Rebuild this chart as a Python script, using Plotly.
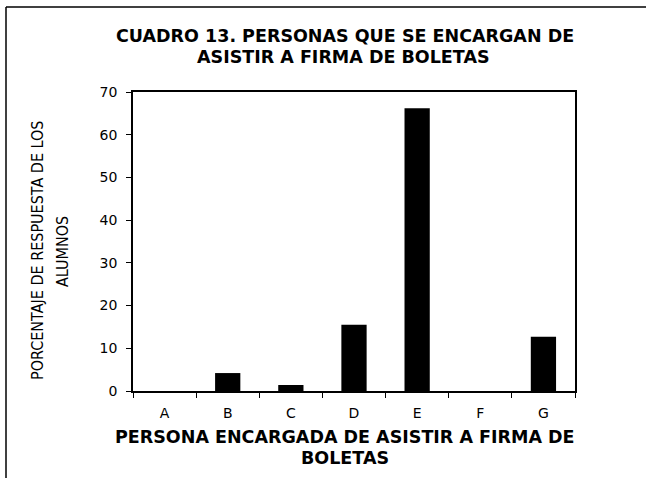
import plotly.graph_objects as go

categories = ["A", "B", "C", "D", "E", "F", "G"]
values = [0, 4.2, 1.4, 15.5, 66.2, 0, 12.7]
y_ticks = [0, 10, 20, 30, 40, 50, 60, 70]

W, H = 646, 478
L, R, T, B = 133, 71, 92, 87
PW, PH = W - L - R, H - T - B

def px(x):
    return (x - L) / PW

def py(y):
    return (H - B - y) / PH

FONT = "DejaVu Sans, Liberation Sans, Arial, sans-serif"
NARROW = "Liberation Sans Narrow, Arial Narrow, DejaVu Sans Condensed, sans-serif"
BIG = 17.5

fig = go.Figure(go.Bar(
    x=categories, y=values, width=0.4,
    marker=dict(color="black", line=dict(width=0)),
))

fig.update_layout(
    width=W, height=H,
    margin=dict(l=L, r=R, t=T, b=B),
    paper_bgcolor="white", plot_bgcolor="white",
    showlegend=False,
    font=dict(family=FONT, color="black"),
)

fig.update_yaxes(
    range=[0, 70], tickvals=y_ticks,
    showline=True, mirror=True, linecolor="black", linewidth=1.5,
    ticks="outside", ticklen=5, tickcolor="black",
    showgrid=False, zeroline=False,
    tickfont=dict(size=14, family=FONT, color="black"),
    ticklabelstandoff=6,
)
fig.update_xaxes(
    showline=True, mirror=True, linecolor="black", linewidth=1.5,
    ticks="outside", ticklen=5, tickcolor="black", tickson="boundaries",
    showgrid=False, zeroline=False,
    tickfont=dict(size=14, family=FONT, color="black"),
    ticklabelstandoff=8,
)

def text_line(txt, x, y, size=BIG, family=FONT, angle=0):
    fig.add_annotation(text=txt, xref="paper", yref="paper", x=px(x), y=py(y),
                       showarrow=False, textangle=angle,
                       xanchor="center", yanchor="middle",
                       font=dict(size=size, family=family, color="black"))

# chart title
text_line("<b>CUADRO 13. PERSONAS QUE SE ENCARGAN DE</b>", 345, 36)
text_line("<b>ASISTIR A FIRMA DE BOLETAS</b>", 343, 57)

# x-axis title
text_line("<b>PERSONA ENCARGADA DE ASISTIR A FIRMA DE</b>", 345, 437)
text_line("<b>BOLETAS</b>", 345, 458)

# y-axis title
text_line("PORCENTAJE DE RESPUESTA DE LOS", 37, 251, size=16, family=NARROW, angle=-90)
text_line("ALUMNOS", 62, 252, size=16, family=NARROW, angle=-90)

# outer frame (top and left edges visible)
fig.add_shape(type="line", xref="paper", yref="paper",
              x0=px(6), x1=px(660), y0=py(7), y1=py(7),
              line=dict(color="black", width=1.5))
fig.add_shape(type="line", xref="paper", yref="paper",
              x0=px(6), x1=px(6), y0=py(7), y1=py(490),
              line=dict(color="black", width=1.5))

fig.write_html("out.html", config={"displayModeBar": False},
               post_script="document.body.style.margin='0';")
